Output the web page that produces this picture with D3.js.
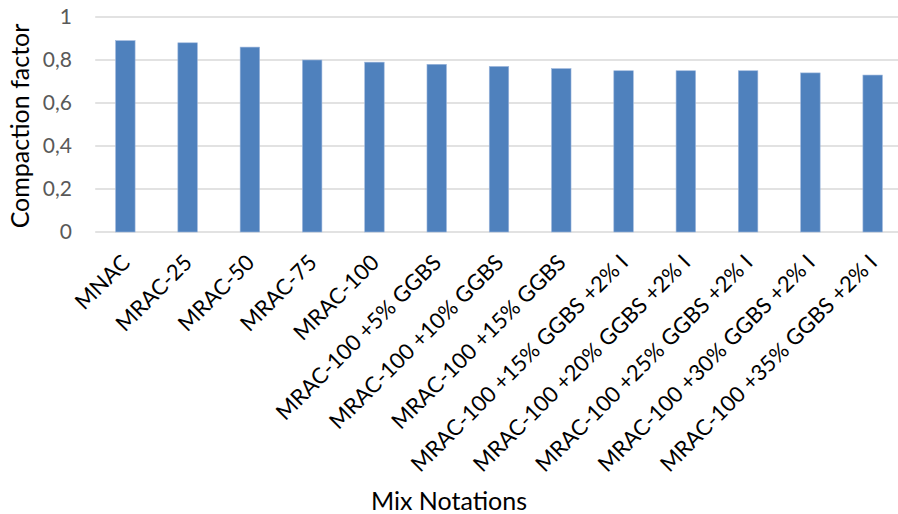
<!DOCTYPE html>
<html>
<head>
<meta charset="utf-8">
<script src="https://cdn.jsdelivr.net/npm/d3@7"></script>
<style>
  html, body { margin: 0; padding: 0; background: #fff; }
  svg { display: block; font-family: Lato, "Open Sans", sans-serif; }
</style>
</head>
<body>
<svg id="chart" width="898" height="514"></svg>
<script>
// Mix designs and their measured compaction factor
const categories = [
  "MNAC", "MRAC-25", "MRAC-50", "MRAC-75", "MRAC-100",
  "MRAC-100 +5% GGBS", "MRAC-100 +10% GGBS", "MRAC-100 +15% GGBS",
  "MRAC-100 +15% GGBS +2% I", "MRAC-100 +20% GGBS +2% I",
  "MRAC-100 +25% GGBS +2% I", "MRAC-100 +30% GGBS +2% I",
  "MRAC-100 +35% GGBS +2% I"
];
const compactionFactor = [0.89, 0.88, 0.86, 0.80, 0.79, 0.78, 0.77, 0.76, 0.75, 0.75, 0.75, 0.74, 0.73];
const yTicks = [0, 0.2, 0.4, 0.6, 0.8, 1];
const yTitle = "Compaction factor";
const xTitle = "Mix Notations";

const svg = d3.select("#chart");
const W = 898, H = 514;
const plot = { left: 94.2, right: 903.8, top: 17, bottom: 232 };

const x = d3.scaleBand()
  .domain(categories)
  .range([plot.left, plot.right])
  .paddingInner(0.687)
  .paddingOuter(0.3435);

const y = d3.scaleLinear().domain([0, 1]).range([plot.bottom, plot.top]);

const fmt = v => d3.format("~g")(v).replace(".", ",");

// horizontal gridlines (the zero line doubles as the category axis)
svg.append("g")
  .selectAll("line")
  .data(yTicks)
  .join("line")
  .attr("x1", plot.left + 1)
  .attr("x2", W)
  .attr("y1", d => y(d))
  .attr("y2", d => y(d))
  .attr("stroke", "#d9d9d9")
  .attr("stroke-width", 1.5);

// value axis labels
const yAxis = d3.axisLeft(y).tickValues(yTicks).tickFormat(fmt).tickSize(0).tickPadding(0);
const gy = svg.append("g").attr("transform", "translate(72,0)").call(yAxis);
gy.select(".domain").remove();
gy.selectAll("text")
  .attr("fill", "#595959")
  .style("font-size", "21px")
  .style("font-family", "Lato, 'Open Sans', sans-serif");

// bars
svg.append("g")
  .selectAll("rect")
  .data(categories)
  .join("rect")
  .attr("x", d => x(d))
  .attr("width", x.bandwidth())
  .attr("y", (d, i) => y(compactionFactor[i]))
  .attr("height", (d, i) => y(0) - y(compactionFactor[i]))
  .attr("fill", "#4f81bd")
  .attr("stroke", "#9db7dc")
  .attr("stroke-width", 0.6);

// rotated category labels
const xAxis = d3.axisBottom(x).tickSize(0).tickPadding(0);
const gx = svg.append("g").attr("transform", `translate(0,${plot.bottom})`).call(xAxis);
gx.select(".domain").remove();
gx.selectAll(".tick text")
  .attr("fill", "#000")
  .style("font-size", "22px")
  .style("font-family", "Lato, 'Open Sans', sans-serif")
  .attr("text-anchor", "end")
  .attr("dy", null)
  .attr("y", 0)
  .attr("transform", "translate(6,32) rotate(-45)");

// axis titles
svg.append("text")
  .attr("transform", `translate(29,126) rotate(-90)`)
  .attr("text-anchor", "middle")
  .style("font-size", "25px")
  .attr("fill", "#000")
  .text(yTitle);

svg.append("text")
  .attr("x", 449)
  .attr("y", 510)
  .attr("text-anchor", "middle")
  .style("font-size", "25px")
  .attr("fill", "#000")
  .text(xTitle);
</script>
</body>
</html>
